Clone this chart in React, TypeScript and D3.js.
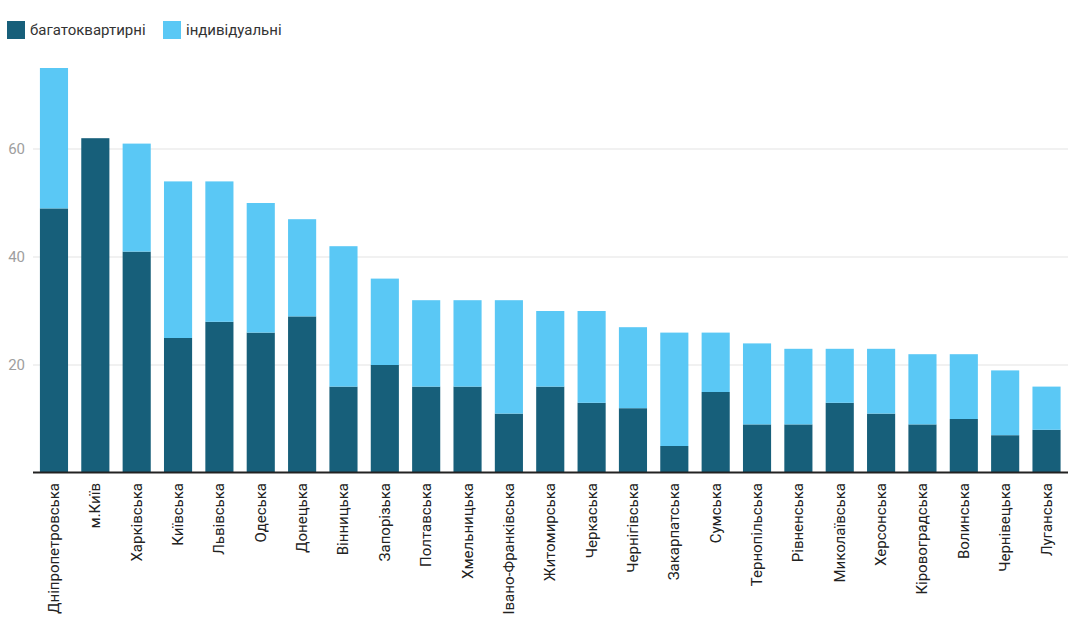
import React from "react";
import * as d3 from "d3";

const categories = [
  "Дніпропетровська", "м.Київ", "Харківська", "Київська", "Львівська", "Одеська",
  "Донецька", "Вінницька", "Запорізька", "Полтавська", "Хмельницька", "Івано-Франківська",
  "Житомирська", "Черкаська", "Чернігівська", "Закарпатська", "Сумська", "Тернопільська",
  "Рівненська", "Миколаївська", "Херсонська", "Кіровоградська", "Волинська", "Чернівецька", "Луганська",
];
const multiApartment = [49, 62, 41, 25, 28, 26, 29, 16, 20, 16, 16, 11, 16, 13, 12, 5, 15, 9, 9, 13, 11, 9, 10, 7, 8];
const individual = [26, 0, 20, 29, 26, 24, 18, 26, 16, 16, 16, 21, 14, 17, 15, 21, 11, 15, 14, 10, 12, 13, 12, 12, 8];
const seriesNames = ["багатоквартирні", "індивідуальні"];
const yTicks = [20, 40, 60];

const W = 1080;
const H = 641;
const COLORS = ["#175f7a", "#5ac8f5"];
const FONT = "Roboto, Arial, sans-serif";

export default function App() {
  const x = d3.scaleBand<string>().domain(categories).range([33.3, 1067.2]).paddingInner(0.32).paddingOuter(0.16);
  const y = d3.scaleLinear().domain([0, 75]).range([473, 68]);

  const rows = categories.map((c, i) => ({ cat: c, a: multiApartment[i], b: individual[i] }));
  const stack = d3.stack<any>().keys(["a", "b"])(rows);

  return (
    <div style={{ position: "fixed", left: 0, top: 0 }}>
      <svg width={W} height={H} style={{ display: "block", background: "#fff" }}>
        {/* legend */}
        {seriesNames.map((n, i) => {
          const lx = i === 0 ? 7 : 163;
          return (
            <g key={n}>
              <rect x={lx} y={21} width={18} height={18} fill={COLORS[i]} />
              <text x={lx + 23} y={35} fontFamily={FONT} fontSize={15} fill="#333">{n}</text>
            </g>
          );
        })}
        {/* grid */}
        {yTicks.map((t) => (
          <g key={t}>
            <line x1={33} x2={1068} y1={y(t)} y2={y(t)} stroke="#e3e3e3" strokeWidth={1} />
            <text x={25} y={y(t) + 5} textAnchor="end" fontFamily={FONT} fontSize={15} fill="#9e9e9e">{t}</text>
          </g>
        ))}
        {/* bars */}
        {stack.map((s, si) => (
          <g key={si} fill={COLORS[si]}>
            {s.map((d: any, i: number) => (
              d[1] - d[0] > 0 ? (
                <rect key={i} x={x(categories[i])} width={x.bandwidth()} y={y(d[1])} height={y(d[0]) - y(d[1])} />
              ) : null
            ))}
          </g>
        ))}
        {/* axis */}
        <line x1={33} x2={1068} y1={472.5} y2={472.5} stroke="#222" strokeWidth={2} />
        {categories.map((c) => {
          const cx = (x(c) as number) + x.bandwidth() / 2;
          return (
            <text key={c} transform={`translate(${cx + 5},483) rotate(-90)`} textAnchor="end"
              fontFamily={FONT} fontSize={15} fill="#222">{c}</text>
          );
        })}
      </svg>
    </div>
  );
}
